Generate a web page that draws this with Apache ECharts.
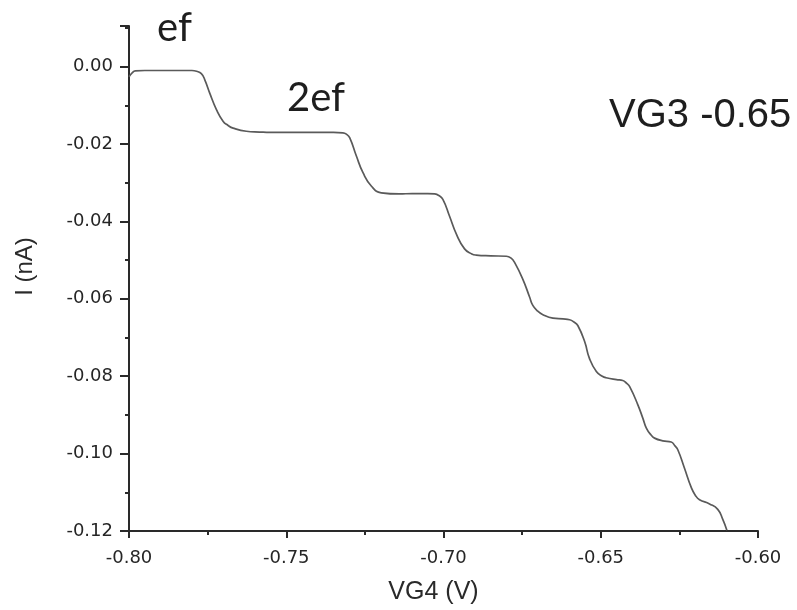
<!DOCTYPE html>
<html>
<head>
<meta charset="utf-8">
<script src="https://cdn.jsdelivr.net/npm/echarts@6/dist/echarts.min.js"></script>
<style>
  html, body { margin: 0; padding: 0; background: #fff; }
  #chart { width: 797px; height: 610px; }
</style>
</head>
<body>
<div id="chart"></div>
<script>
// Gate sweep: VG4 (V) against measured current I (nA)
const vg4 = [
  -0.8000, -0.7990, -0.7980, -0.7950, -0.7900, -0.7850, -0.7800, -0.7785, -0.7770, -0.7759,
  -0.7743, -0.7722, -0.7701, -0.7685, -0.7669, -0.7627, -0.7585, -0.7550, -0.7500, -0.7450,
  -0.7400, -0.7350, -0.7320, -0.7308, -0.7298, -0.7277, -0.7256, -0.7229, -0.7198, -0.7140,
  -0.7100, -0.7050, -0.7028, -0.7015, -0.7002, -0.6981, -0.6959, -0.6933, -0.6910, -0.6896,
  -0.6850, -0.6800, -0.6785, -0.6774, -0.6748, -0.6726, -0.6716, -0.6700, -0.6684, -0.6652,
  -0.6620, -0.6599, -0.6585, -0.6573, -0.6551, -0.6536, -0.6514, -0.6495, -0.6483, -0.6450,
  -0.6430, -0.6418, -0.6408, -0.6382, -0.6366, -0.6355, -0.6340, -0.6329, -0.6303, -0.6276,
  -0.6264, -0.6255, -0.6234, -0.6212, -0.6199, -0.6186, -0.6154, -0.6128, -0.6112, -0.6099
];
const current = [
  -0.0026, -0.0016, -0.0011, -0.0010, -0.0010, -0.0010, -0.0010, -0.0012, -0.0018, -0.0034,
  -0.0069, -0.0111, -0.0141, -0.0152, -0.0159, -0.0167, -0.0169, -0.0170, -0.0170, -0.0170,
  -0.0170, -0.0170, -0.0171, -0.0175, -0.0184, -0.0231, -0.0274, -0.0309, -0.0326, -0.0329,
  -0.0328, -0.0328, -0.0329, -0.0333, -0.0343, -0.0386, -0.0433, -0.0471, -0.0484, -0.0487,
  -0.0489, -0.0490, -0.0495, -0.0506, -0.0549, -0.0596, -0.0617, -0.0632, -0.0641, -0.0650,
  -0.0652, -0.0654, -0.0660, -0.0669, -0.0711, -0.0754, -0.0788, -0.0800, -0.0804, -0.0809,
  -0.0811, -0.0818, -0.0827, -0.0874, -0.0909, -0.0934, -0.0952, -0.0960, -0.0967, -0.0970,
  -0.0980, -0.0990, -0.1037, -0.1088, -0.1108, -0.1119, -0.1130, -0.1144, -0.1170, -0.1198
];

// Axis ranges and labels
const xRange = [-0.80, -0.60];
const xStep = 0.05;
const yRange = [-0.12, 0.0105];
const yStep = 0.02;
const stepLabels = ['ef', '2ef'];
const gateNote = 'VG3 -0.65';
const xName = 'VG4 (V)';
const yName = 'I (nA)';

const points = vg4.map((v, i) => [v, current[i]]);

const axisColor = '#2a2a2a';
const tickFont = { fontFamily: 'DejaVu Sans', fontSize: 18, color: '#262626' };

const chart = echarts.init(document.getElementById('chart'), null, { renderer: 'canvas' });

chart.setOption({
  backgroundColor: '#ffffff',
  animation: false,
  grid: { left: 129, right: 39, top: 26, bottom: 77, containLabel: false },
  xAxis: {
    type: 'value',
    min: xRange[0], max: xRange[1], interval: xStep,
    name: xName,
    nameLocation: 'middle',
    nameGap: 49,
    nameTextStyle: { fontFamily: 'Liberation Sans', fontSize: 25, color: '#2a2a2a', padding: [0, 20, 0, 0] },
    axisLine: { show: true, onZero: false, lineStyle: { color: axisColor, width: 2 } },
    axisTick: { show: true, inside: false, length: 7, lineStyle: { color: axisColor, width: 2 } },
    minorTick: { show: true, splitNumber: 2, length: 4, lineStyle: { color: axisColor, width: 2 } },
    splitLine: { show: false },
    axisLabel: Object.assign({ margin: 18, formatter: v => v.toFixed(2) }, tickFont)
  },
  yAxis: {
    type: 'value',
    min: yRange[0], max: yRange[1], interval: yStep,
    name: yName,
    nameLocation: 'middle',
    nameRotate: 90,
    nameGap: 92,
    nameTextStyle: { fontFamily: 'Liberation Sans', fontSize: 24, color: '#2a2a2a', padding: [0, 0, 0, 24] },
    axisLine: { show: true, onZero: false, lineStyle: { color: axisColor, width: 2 } },
    axisTick: { show: true, inside: false, length: 9, lineStyle: { color: axisColor, width: 2 } },
    minorTick: { show: true, splitNumber: 2, length: 4, lineStyle: { color: axisColor, width: 2 } },
    splitLine: { show: false },
    axisLabel: Object.assign({
      margin: 16,
      formatter: v => {
        const k = Math.round(v / yStep);
        if (Math.abs(v - k * yStep) > 1e-6) return '';
        return (k * yStep).toFixed(2);
      }
    }, tickFont)
  },
  series: [{
    type: 'line',
    data: points,
    showSymbol: false,
    smooth: 0.5,
    lineStyle: { color: '#5a5a5a', width: 1.7 },
    clip: true
  }],
  graphic: [
    { type: 'text', left: 157, top: 8,
      style: { text: stepLabels[0], font: '40px Lato', fill: '#1e1e1e' } },
    { type: 'text', left: 287, top: 78,
      style: { text: stepLabels[1], font: '40px Lato', fill: '#1e1e1e' } },
    { type: 'text', left: 609, top: 96,
      style: { text: gateNote, font: '40px "Liberation Sans"', fill: '#1e1e1e' } }
  ]
});
</script>
</body>
</html>
